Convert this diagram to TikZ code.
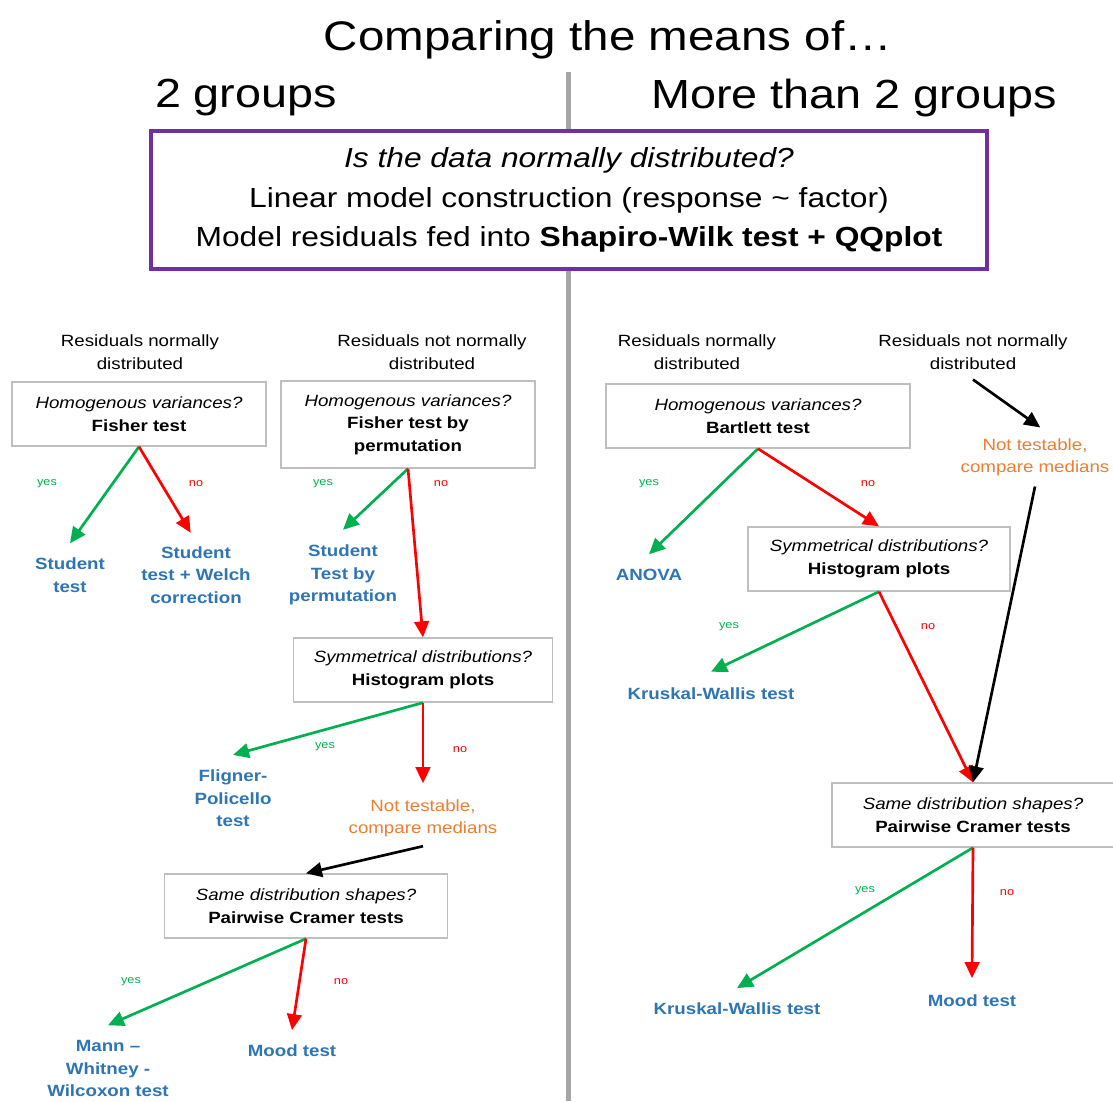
\documentclass[tikz,border=0pt]{standalone}
\usepackage{fontspec}
\setmainfont{Liberation Sans}[FakeStretch=1.15]
\usetikzlibrary{arrows.meta, positioning, shapes}

\definecolor{resblue}{RGB}{46,117,182}
\definecolor{medorange}{RGB}{237,125,49}
\definecolor{yesgreen}{RGB}{0,176,80}
\definecolor{boxpurple}{RGB}{112,48,160}
\definecolor{divgray}{RGB}{166,166,166}

\begin{document}
\begin{tikzpicture}[x=0.75pt, y=-0.75pt,
    question/.style={draw=gray!50, fill=white, line width=1pt, align=center, inner sep=0pt, minimum height=48pt, font=\fontsize{12.2}{17}\selectfont},
    result/.style={text=resblue, align=center, inner sep=0pt, font=\fontsize{12.2}{17}\selectfont\bfseries},
    median/.style={text=medorange, align=center, inner sep=0pt, font=\fontsize{12.2}{16.5}\selectfont},
    branch/.style={align=center, inner sep=0pt, font=\fontsize{12.2}{17}\selectfont},
    heading/.style={inner sep=0pt, font=\fontsize{30.5}{36}\selectfont},
    yeslabel/.style={text=yesgreen, inner sep=0pt, font=\fontsize{8.3}{10}\selectfont},
    nolabel/.style={text=red, inner sep=0pt, font=\fontsize{8.3}{10}\selectfont},
    yesedge/.style={-{Triangle[length=12pt, width=11pt]}, draw=yesgreen, line width=2pt},
    noedge/.style={-{Triangle[length=12pt, width=11pt]}, draw=red, line width=2pt},
    edge/.style={-{Triangle[length=12pt, width=11pt]}, draw=black, line width=2pt}
]

\fill[white] (0,0) rectangle (1113,1101);
\useasboundingbox (0,0) rectangle (1113,1101);

% Headings and divider
\draw[divgray, line width=3.75pt] (568,72) -- (568,1101);
\node[heading, font=\fontsize{31}{36}\selectfont] (title) at (608,40) {Comparing the means of…};
\node[heading] (two) at (246,98) {2 groups};
\node[heading] (more) at (854,98) {More than 2 groups};

\node[draw=boxpurple, line width=3pt, fill=white, align=center, minimum width=627pt, minimum height=103.5pt,
      font=\fontsize{20.7}{29.5}\selectfont] (normal) at (569,200)
  {\textit{Is the data normally distributed?}\\
   Linear model construction (response \textasciitilde{} factor)\\
   Model residuals fed into \textbf{Shapiro-Wilk test + QQplot}};

% Left: 2 groups
\node[branch] (norm2) at (140,352) {Residuals normally\\distributed};
\node[branch] (notnorm2) at (432,352) {Residuals not normally\\distributed};

\node[question, minimum width=190.5pt] (hom2) at (139,414) {\textit{Homogenous variances?}\\\textbf{Fisher test}};
\node[question, minimum width=190.5pt, minimum height=65.25pt] (homperm) at (408,424.5) {\textit{Homogenous variances?}\\\textbf{Fisher test by}\\\textbf{permutation}};

\node[result] (student) at (70,575.5) {Student\\test};
\node[result] (welch) at (196,575) {Student\\test + Welch\\correction};
\node[result] (studperm) at (343,575) {Student\\Test by\\permutation};

\node[yeslabel] (y1) at (47,484) {yes};
\node[nolabel] (n1) at (196,484) {no};
\node[yeslabel] (y2) at (323,484) {yes};
\node[nolabel] (n2) at (441,484) {no};

\draw[yesedge] (hom2.south) -- ([yshift=11pt]student.north);
\draw[noedge] (hom2.south) -- ([xshift=-4pt, yshift=10pt]welch.north);
\draw[yesedge] (homperm.south) -- ([yshift=11pt]studperm.north);

\node[question, minimum width=194pt] (sym2) at (423,670) {\textit{Symmetrical distributions?}\\\textbf{Histogram plots}};
\draw[noedge] (homperm.south) -- (sym2.north);

\node[result] (fligner) at (233,798.5) {Fligner-\\Policello\\test};
\node[median] (med2) at (423,818) {Not testable,\\compare medians};
\node[yeslabel] (y3) at (325,747) {yes};
\node[nolabel] (n3) at (460,750) {no};

\draw[yesedge] (sym2.south) -- ([yshift=11pt]fligner.north);
\draw[noedge] (sym2.south) -- ([yshift=12pt]med2.north);

\node[question, minimum width=212pt] (shape2) at (306,906) {\textit{Same distribution shapes?}\\\textbf{Pairwise Cramer tests}};
\draw[edge] ([yshift=-7pt]med2.south) -- (shape2.north);

\node[result] (mannw) at (108,1068.5) {Mann –\\Whitney -\\Wilcoxon test};
\node[result] (mood2) at (292,1051) {Mood test};
\node[yeslabel] (y4) at (131,982) {yes};
\node[nolabel] (n4) at (341,982) {no};

\draw[yesedge] (shape2.south) -- ([yshift=11pt]mannw.north);
\draw[noedge] (shape2.south) -- ([yshift=11pt]mood2.north);

% Right: more than 2 groups
\node[branch] (normk) at (697,352) {Residuals normally\\distributed};
\node[branch] (notnormk) at (973,352) {Residuals not normally\\distributed};

\node[question, minimum width=228pt] (homk) at (758,416) {\textit{Homogenous variances?}\\\textbf{Bartlett test}};
\node[result] (anova) at (649,575) {ANOVA};
\node[question, minimum width=196.5pt] (symk) at (879,559) {\textit{Symmetrical distributions?}\\\textbf{Histogram plots}};
\node[median] (medk) at (1035,457) {Not testable,\\compare medians};

\node[yeslabel] (y5) at (649,484) {yes};
\node[nolabel] (n5) at (868,484) {no};

\draw[yesedge] (homk.south) -- ([yshift=11pt]anova.north);
\draw[noedge] (homk.south) -- (symk.north);
\draw[edge] ([yshift=-7.5pt]notnormk.south) -- ([xshift=4pt, yshift=8pt]medk.north);

\node[result] (kw1) at (711,694) {Kruskal-Wallis test};
\node[yeslabel] (y6) at (729,627) {yes};
\node[nolabel] (n6) at (928,627) {no};

\node[question, minimum width=211.5pt] (shapek) at (973,815) {\textit{Same distribution shapes?}\\\textbf{Pairwise Cramer tests}};

\draw[yesedge] (symk.south) -- ([yshift=12pt]kw1.north);
\draw[noedge] (symk.south) -- (shapek.north);
\draw[edge] ([yshift=-8pt]medk.south) -- (shapek.north);

\node[result] (kw2) at (737,1009) {Kruskal-Wallis test};
\node[result] (moodk) at (972,1001) {Mood test};
\node[yeslabel] (y7) at (865,891) {yes};
\node[nolabel] (n7) at (1007,893) {no};

\draw[yesedge] (shapek.south) -- ([yshift=11pt]kw2.north);
\draw[noedge] (shapek.south) -- ([yshift=12.5pt]moodk.north);

\end{tikzpicture}
\end{document}
